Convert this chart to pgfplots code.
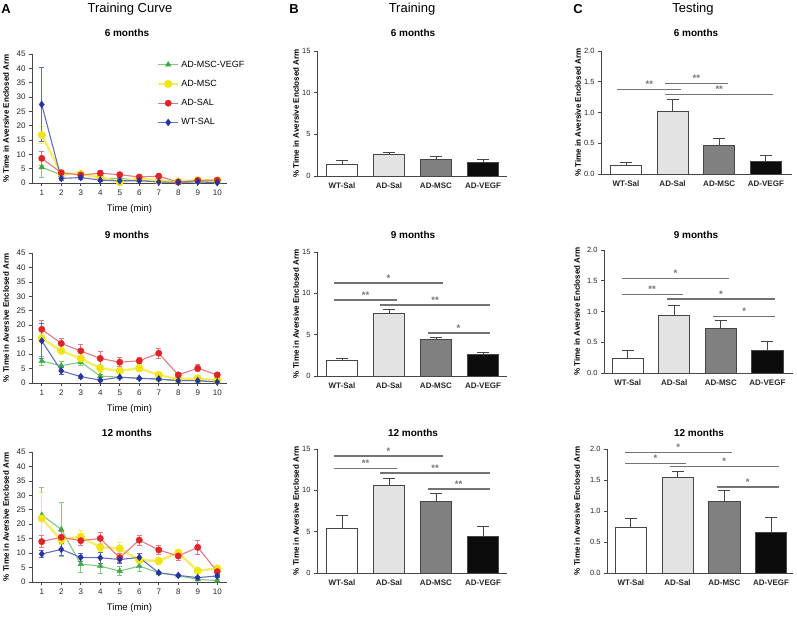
\documentclass[border=0pt]{standalone}
\usepackage{fontspec}
\setmainfont{Liberation Sans}
\usepackage{pgfplots}
\usepackage{pgfplotstable}
\pgfplotsset{compat=1.18}

\definecolor{cg}{RGB}{60,170,70}
\definecolor{cgl}{RGB}{130,200,130}
\definecolor{cy}{RGB}{240,228,20}
\definecolor{cyl}{RGB}{245,238,100}
\definecolor{cr}{RGB}{225,35,40}
\definecolor{crl}{RGB}{225,120,130}
\definecolor{cb}{RGB}{40,50,160}
\definecolor{cbl}{RGB}{100,110,190}
\definecolor{axc}{RGB}{70,70,70}
\definecolor{sigc}{RGB}{115,115,115}
\definecolor{barlight}{RGB}{227,227,227}
\definecolor{barmid}{RGB}{128,128,128}
\definecolor{bardark}{RGB}{12,12,12}

% Training curve data: t, green (AD-MSC-VEGF), yellow (AD-MSC), red (AD-SAL), blue (WT-SAL)
\pgfplotstableread{
t g ge y ye r re b be
1 5.5 3.5 16.7 3.0 8.6 2.5 27.4 13.0
2 2.8 0.5 3.4 0.6 3.6 0.7 1.6 0.6
3 3.4 0.5 3.1 0.5 2.8 0.6 1.9 0.6
4 1.6 0.4 2.0 0.5 3.4 1.0 1.0 0.4
5 1.6 0.4 0.3 0.3 2.9 0.6 0.8 0.3
6 1.0 0.3 1.6 0.4 2.1 0.5 0.8 0.3
7 0.5 0.2 0.8 0.3 2.4 0.6 0.35 0.2
8 0.3 0.2 0.5 0.2 0.3 0.2 0.3 0.2
9 0.5 0.2 1.0 0.3 0.9 0.3 0.4 0.2
10 0.35 0.2 0.8 0.3 1.0 0.4 0.1 0.1
}\tabAsix
\pgfplotstableread{
t g ge y ye r re b be
1 7.6 1.5 15.5 1.5 18.6 2.9 14.6 6.0
2 6.0 1.5 11.1 1.0 13.7 1.7 4.2 1.3
3 7.2 1.0 8.5 1.0 11.1 2.3 2.2 0.5
4 2.4 0.5 5.1 1.5 8.5 2.3 1.0 0.3
5 2.0 0.4 4.2 0.8 7.2 1.5 2.0 0.4
6 1.7 0.4 5.1 1.2 7.7 1.0 1.6 0.4
7 1.3 0.3 2.8 0.5 10.3 1.8 1.4 0.3
8 0.8 0.2 1.3 0.3 2.8 0.6 0.8 0.2
9 0.8 0.2 1.6 0.4 5.1 1.2 0.8 0.2
10 0.5 0.2 1.0 0.3 2.8 1.0 0.35 0.1
}\tabAnine
\pgfplotstableread{
t g ge y ye r re b be
1 23.2 9.5 22.0 9.0 14.0 2.0 9.7 1.3
2 18.2 9.3 14.5 1.5 15.5 2.0 11.3 2.0
3 6.2 3.0 15.7 2.0 14.3 1.8 8.5 1.5
4 5.5 2.5 12.0 1.5 15.1 2.2 8.4 1.8
5 3.8 1.6 11.6 2.0 8.4 1.5 7.8 1.5
6 5.5 2.0 7.6 1.0 14.5 1.8 8.5 1.5
7 3.2 0.6 7.3 1.3 11.1 1.5 3.2 0.6
8 2.2 0.4 10.1 1.2 9.0 1.5 2.3 0.4
9 0.9 0.3 3.9 0.8 12.0 2.5 1.5 0.4
10 0.5 0.3 4.7 1.0 3.6 0.8 2.1 0.5
}\tabAtwelve

\pgfplotsset{
  base/.style={scale only axis, anchor=south west, axis lines=left,
    axis line style={-, draw=axc, line width=0.8pt},
    tick align=outside, major tick length=3pt,
    every tick/.style={draw=axc, line width=0.7pt},
    tick label style={font=\fontsize{7.5}{8}\selectfont, text=black!85},
    /pgf/number format/assume math mode=true,
    ylabel={\% Time in Aversive Enclosed Arm},
    ylabel style={font=\bfseries\fontsize{8}{9}\selectfont, anchor=center, rotate=0},
    clip=false},
  curve/.style={base, width=195pt, xmin=0.5, xmax=10.5, ymin=0, ymax=45,
    xtick={1,...,10}, ytick={0,5,...,45},
    tick label style={font=\fontsize{8}{9}\selectfont, text=black!85},
    xlabel={Time (min)},
    xlabel style={font=\fontsize{9.5}{10}\selectfont, at={(axis description cs:0.5,-0.2)}, anchor=center},
    ylabel style={at={(axis description cs:-0.133,0.5)}}},
  barax/.style={base, xtick={0,1,2,3}, xticklabels={WT-Sal,AD-Sal,AD-MSC,AD-VEGF},
    xticklabel style={font=\bfseries\fontsize{8}{9}\selectfont, text=black!85},
    xtick style={draw=none}, ymin=0},
  gst/.style={color=cgl, line width=1.1pt, mark=triangle*, mark size=3.2pt,
    mark options={fill=cg, draw=cg, line width=0.4pt},
    /pgfplots/error bars/y dir=both, /pgfplots/error bars/y explicit,
    /pgfplots/error bars/error bar style={cgl, line width=0.8pt},
    /pgfplots/error bars/error mark options={rotate=90, mark size=2.5pt, cgl, line width=0.8pt}},
  yst/.style={color=cyl, line width=2.4pt, mark=*, mark size=3.8pt,
    mark options={fill=cy, draw=cy, line width=0.4pt},
    /pgfplots/error bars/y dir=both, /pgfplots/error bars/y explicit,
    /pgfplots/error bars/error bar style={cyl, line width=0.8pt},
    /pgfplots/error bars/error mark options={rotate=90, mark size=2.5pt, cyl, line width=0.8pt}},
  rst/.style={color=crl, line width=1.1pt, mark=*, mark size=3.2pt,
    mark options={fill=cr, draw=cr, line width=0.4pt},
    /pgfplots/error bars/y dir=both, /pgfplots/error bars/y explicit,
    /pgfplots/error bars/error bar style={crl, line width=0.8pt},
    /pgfplots/error bars/error mark options={rotate=90, mark size=2.5pt, crl, line width=0.8pt}},
  bst/.style={color=cbl, line width=1.1pt, mark=diamond*, mark size=3.4pt,
    mark options={fill=cb, draw=cb, line width=0.4pt},
    /pgfplots/error bars/y dir=both, /pgfplots/error bars/y explicit,
    /pgfplots/error bars/error bar style={cbl, line width=0.8pt},
    /pgfplots/error bars/error mark options={rotate=90, mark size=2.5pt, cbl, line width=0.8pt}},
  barst/.style={ybar, bar shift=0pt, draw=axc, line width=0.8pt,
    /pgfplots/error bars/y dir=plus, /pgfplots/error bars/y explicit,
    /pgfplots/error bars/error bar style={draw=axc, line width=0.8pt},
    /pgfplots/error bars/error mark options={rotate=90, mark size=6pt, draw=axc, line width=0.8pt}},
}

\newcommand{\curves}[1]{%
  \addplot[gst] table[x=t, y=g, y error=ge] {#1};
  \addplot[yst] table[x=t, y=y, y error=ye] {#1};
  \addplot[rst] table[x=t, y=r, y error=re] {#1};
  \addplot[bst] table[x=t, y=b, y error=be] {#1};
}
\newcommand{\bars}[9]{% width, v1 e1 ... v4 e4
  \addplot[barst, bar width=#1, fill=white] coordinates {(0,#2) +- (0,#3)};
  \addplot[barst, bar width=#1, fill=barlight] coordinates {(1,#4) +- (0,#5)};
  \addplot[barst, bar width=#1, fill=barmid] coordinates {(2,#6) +- (0,#7)};
  \addplot[barst, bar width=#1, fill=bardark] coordinates {(3,#8) +- (0,#9)};
}
\newcommand{\sig}[4]{%
  \draw[sigc, line width=1.4pt] (axis cs:#1,#3) -- (axis cs:#2,#3)
    node[midway, above, inner sep=1pt, text=sigc, font=\bfseries\fontsize{9.5}{10}\selectfont] {#4};
}

\begin{document}
\begin{tikzpicture}
\path[use as bounding box] (0pt,0pt) rectangle (797pt,619pt);

% headers
\node[font=\bfseries\fontsize{13}{14}\selectfont] at (6pt,610pt) {A};
\node[font=\fontsize{13}{14}\selectfont] at (130pt,610pt) {Training Curve};
\node[font=\bfseries\fontsize{13}{14}\selectfont] at (294pt,610pt) {B};
\node[font=\fontsize{13}{14}\selectfont] at (412pt,610pt) {Training};
\node[font=\bfseries\fontsize{13}{14}\selectfont] at (578pt,610pt) {C};
\node[font=\fontsize{13}{14}\selectfont] at (693pt,610pt) {Testing};

% titles
\foreach \xx/\yy/\tt in {127/586/6 months, 127/384/9 months, 127/186/12 months,
  413/586/6 months, 413/384/9 months, 413/186/12 months,
  696/586/6 months, 696/384/9 months, 699/186/12 months}{
  \node[font=\bfseries\fontsize{10}{11}\selectfont] at (\xx pt,\yy pt) {\tt};
}

% ---------- A ----------
\begin{axis}[curve, at={(32pt,436pt)}, height=129pt,
  legend style={draw=none, fill=none, at={(axis description cs:0.64,0.965)}, anchor=north west,
    font=\fontsize{9}{10}\selectfont, row sep=7.5pt, inner sep=0pt},
  legend cell align=left,
  legend image code/.code={\draw[mark repeat=2, mark phase=2, #1] plot coordinates {(0pt,0pt) (10pt,0pt) (20pt,0pt)};}]
\curves{\tabAsix}
\legend{AD-MSC-VEGF, AD-MSC, AD-SAL, WT-SAL}
\end{axis}

\begin{axis}[curve, at={(32pt,236pt)}, height=130pt]
\curves{\tabAnine}
\end{axis}

\begin{axis}[curve, at={(32pt,37pt)}, height=130pt]
\curves{\tabAtwelve}
\end{axis}

% ---------- B ----------
\begin{axis}[barax, at={(317pt,443pt)}, width=190pt, height=125pt,
  xmin=-0.53, xmax=3.51, ymax=15, ytick={0,5,10,15},
  ylabel style={at={(axis description cs:-0.11,0.5)}}]
\bars{0.66}{1.45}{0.4}{2.6}{0.2}{1.96}{0.4}{1.68}{0.35}
\end{axis}

\begin{axis}[barax, at={(317pt,243pt)}, width=190pt, height=124pt,
  xmin=-0.53, xmax=3.51, ymax=15, ytick={0,5,10,15},
  ylabel style={at={(axis description cs:-0.11,0.5)}}]
\bars{0.66}{1.9}{0.2}{7.6}{0.4}{4.4}{0.3}{2.6}{0.3}
\sig{-0.16}{2.14}{11.25}{*}
\sig{-0.16}{1.17}{9.2}{**}
\sig{0.82}{3.14}{8.6}{**}
\sig{1.82}{3.14}{5.2}{*}
\end{axis}

\begin{axis}[barax, at={(317pt,46pt)}, width=190pt, height=124pt,
  xmin=-0.53, xmax=3.51, ymax=15, ytick={0,5,10,15},
  ylabel style={at={(axis description cs:-0.11,0.5)}}]
\bars{0.66}{5.4}{1.6}{10.6}{0.8}{8.7}{0.9}{4.4}{1.2}
\sig{-0.16}{2.14}{14.15}{*}
\sig{-0.16}{1.17}{12.65}{**}
\sig{0.82}{3.14}{12.1}{**}
\sig{1.82}{3.14}{10.15}{**}
\end{axis}

% ---------- C ----------
\begin{axis}[barax, at={(601pt,445pt)}, width=191pt, height=123pt,
  xmin=-0.535, xmax=3.56, ymax=2, ytick={0,0.5,1,1.5,2},
  yticklabel style={/pgf/number format/.cd, fixed, fixed zerofill, precision=1},
  ylabel style={at={(axis description cs:-0.12,0.5)}}]
\bars{0.67}{0.135}{0.06}{1.01}{0.21}{0.46}{0.12}{0.205}{0.1}
\sig{-0.19}{1.19}{1.375}{**}
\sig{0.84}{2.18}{1.47}{**}
\sig{0.84}{3.16}{1.29}{**}
\end{axis}

\begin{axis}[barax, at={(604pt,246pt)}, width=189pt, height=123pt,
  xmin=-0.51, xmax=3.55, ymax=2, ytick={0,0.5,1,1.5,2},
  yticklabel style={/pgf/number format/.cd, fixed, fixed zerofill, precision=1},
  ylabel style={at={(axis description cs:-0.143,0.5)}}]
\bars{0.67}{0.23}{0.14}{0.93}{0.17}{0.73}{0.12}{0.36}{0.15}
\sig{-0.13}{2.18}{1.54}{*}
\sig{-0.13}{1.18}{1.28}{**}
\sig{0.84}{3.16}{1.205}{*}
\sig{1.84}{3.16}{0.92}{*}
\end{axis}

\begin{axis}[barax, at={(607pt,46pt)}, width=186pt, height=124pt,
  xmin=-0.51, xmax=3.47, ymax=2, ytick={0,0.5,1,1.5,2},
  yticklabel style={/pgf/number format/.cd, fixed, fixed zerofill, precision=1},
  ylabel style={at={(axis description cs:-0.161,0.5)}}]
\bars{0.67}{0.74}{0.14}{1.55}{0.09}{1.15}{0.18}{0.66}{0.23}
\sig{-0.13}{2.16}{1.946}{*}
\sig{-0.13}{1.18}{1.77}{*}
\sig{0.84}{3.16}{1.715}{*}
\sig{1.84}{3.16}{1.39}{*}
\end{axis}

\end{tikzpicture}
\end{document}
